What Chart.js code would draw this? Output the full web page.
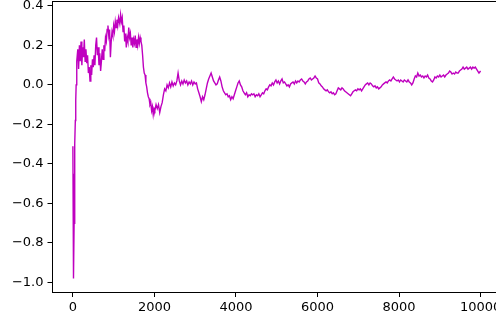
<!DOCTYPE html>
<html>
<head>
<meta charset="utf-8">
<script src="https://cdn.jsdelivr.net/npm/chart.js@4/dist/chart.umd.min.js"></script>
<style>
  html, body { margin: 0; padding: 0; background: #fff; overflow: hidden; }
  #wrap { width: 511px; height: 320px; }
</style>
</head>
<body>
<div id="wrap"><canvas id="c" width="511" height="320"></canvas></div>
<script>
// Running average of the trial outcomes, sampled along the run.
const steps = [
  0, 5, 10, 15, 20, 30, 40, 50, 60, 70, 80, 90, 100, 120, 140, 160, 180, 200, 220, 240,
  260, 280, 300, 320, 340, 360, 380, 400, 420, 440, 460, 480, 500, 520, 540, 560, 580, 600, 620, 640,
  660, 680, 700, 720, 740, 760, 780, 800, 820, 840, 860, 880, 900, 920, 940, 960, 980, 1000, 1020, 1040,
  1060, 1080, 1100, 1120, 1150, 1170, 1190, 1210, 1230, 1250, 1270, 1290, 1310, 1330, 1350, 1370, 1390, 1410, 1430, 1450,
  1470, 1490, 1510, 1530, 1550, 1570, 1590, 1610, 1630, 1650, 1670, 1690, 1710, 1730, 1750, 1770, 1790, 1810, 1830, 1850,
  1870, 1890, 1910, 1930, 1950, 1970, 1990, 2010, 2040, 2070, 2100, 2130, 2160, 2190, 2220, 2250, 2280, 2310, 2340, 2370,
  2400, 2430, 2460, 2490, 2520, 2550, 2580, 2610, 2640, 2670, 2700, 2730, 2760, 2790, 2820, 2850, 2880, 2910, 2940, 2970,
  3000, 3030, 3060, 3090, 3120, 3150, 3180, 3210, 3240, 3270, 3300, 3330, 3360, 3390, 3420, 3450, 3480, 3510, 3540, 3570,
  3600, 3630, 3660, 3690, 3720, 3750, 3780, 3810, 3840, 3870, 3900, 3930, 3960, 3990, 4020, 4050, 4080, 4110, 4140, 4170,
  4200, 4230, 4260, 4290, 4320, 4350, 4380, 4410, 4440, 4470, 4500, 4530, 4560, 4590, 4620, 4650, 4680, 4710, 4740, 4770,
  4800, 4830, 4860, 4890, 4920, 4950, 4980, 5010, 5040, 5070, 5100, 5130, 5160, 5190, 5220, 5250, 5280, 5310, 5340, 5370,
  5400, 5430, 5460, 5490, 5520, 5550, 5580, 5610, 5640, 5670, 5700, 5730, 5760, 5790, 5820, 5850, 5880, 5910, 5940, 5970,
  6000, 6030, 6060, 6090, 6120, 6150, 6180, 6210, 6240, 6270, 6300, 6330, 6360, 6390, 6420, 6450, 6480, 6510, 6540, 6570,
  6600, 6630, 6660, 6690, 6720, 6750, 6780, 6810, 6840, 6870, 6900, 6930, 6960, 6990, 7020, 7050, 7080, 7110, 7140, 7170,
  7200, 7230, 7260, 7290, 7320, 7350, 7380, 7410, 7440, 7470, 7500, 7530, 7560, 7590, 7620, 7650, 7680, 7710, 7740, 7770,
  7800, 7830, 7860, 7890, 7920, 7950, 7980, 8010, 8040, 8070, 8100, 8130, 8160, 8190, 8220, 8250, 8280, 8310, 8340, 8370,
  8400, 8430, 8460, 8490, 8520, 8550, 8580, 8610, 8640, 8670, 8700, 8730, 8760, 8790, 8820, 8850, 8880, 8910, 8940, 8970,
  9000, 9030, 9060, 9090, 9120, 9150, 9180, 9210, 9240, 9270, 9300, 9330, 9360, 9390, 9420, 9450, 9480, 9510, 9540, 9570,
  9600, 9630, 9660, 9690, 9720, 9750, 9780, 9810, 9840, 9870, 9900, 9930, 9960, 9980, 10000
];

const values = [
  -0.31, -0.55, -0.88, -0.45, -0.98, -0.70, -0.50, -0.30, -0.18, -0.08, 0.00, 0.06, 0.12, 0.18, 0.08, 0.20, 0.12, 0.22, 0.10, 0.19,
  0.14, 0.23, 0.12, 0.18, 0.11, 0.15, 0.06, 0.09, 0.02, 0.10, 0.05, 0.13, 0.09, 0.15, 0.10, 0.20, 0.24, 0.15, 0.19, 0.10,
  0.16, 0.07, 0.12, 0.18, 0.13, 0.20, 0.17, 0.24, 0.22, 0.28, 0.30, 0.25, 0.28, 0.14, 0.22, 0.27, 0.25, 0.30, 0.27, 0.32,
  0.29, 0.33, 0.30, 0.34, 0.31, 0.355, 0.32, 0.34, 0.27, 0.30, 0.22, 0.26, 0.19, 0.24, 0.22, 0.29, 0.24, 0.26, 0.20, 0.24,
  0.19, 0.23, 0.21, 0.25, 0.19, 0.23, 0.20, 0.24, 0.21, 0.24, 0.22, 0.20, 0.15, 0.09, 0.06, 0.05, 0.01, -0.01, -0.04, -0.06,
  -0.07, -0.10, -0.09, -0.13, -0.11, -0.15, -0.12, -0.13, -0.10, -0.12, -0.10, -0.14, -0.11, -0.09, -0.05, -0.02, -0.03, 0.00, -0.015, 0.01,
  -0.01, 0.015, -0.005, 0.01, 0.00, 0.02, 0.06, 0.02, 0.00, 0.02, 0.005, 0.025, 0.01, 0.02, 0.00, 0.015, 0.005, 0.02, 0.00, 0.015,
  0.005, 0.01, -0.02, -0.04, -0.06, -0.085, -0.06, -0.075, -0.05, -0.02, 0.01, 0.03, 0.045, 0.06, 0.04, 0.02, 0.01, 0.00, 0.005, 0.025,
  0.04, 0.02, -0.01, -0.03, -0.04, -0.05, -0.045, -0.06, -0.055, -0.075, -0.06, -0.07, -0.05, -0.03, -0.01, 0.01, 0.02, 0.00, -0.01, -0.03,
  -0.04, -0.05, -0.04, -0.06, -0.05, -0.055, -0.045, -0.05, -0.045, -0.06, -0.05, -0.055, -0.045, -0.06, -0.05, -0.04, -0.045, -0.03, -0.02, -0.025,
  -0.01, 0.00, -0.005, 0.01, 0.00, 0.015, 0.025, 0.01, 0.02, 0.005, 0.02, 0.03, 0.01, 0.015, 0.005, -0.005, 0.00, -0.01, 0.005, 0.01,
  0.015, 0.005, 0.02, 0.01, 0.02, 0.015, 0.025, 0.03, 0.02, 0.015, 0.005, 0.015, 0.02, 0.03, 0.035, 0.025, 0.03, 0.035, 0.045, 0.035,
  0.03, 0.01, 0.005, -0.005, -0.01, -0.02, -0.025, -0.03, -0.025, -0.035, -0.04, -0.035, -0.045, -0.04, -0.05, -0.045, -0.03, -0.015, -0.02, -0.025,
  -0.015, -0.02, -0.03, -0.035, -0.04, -0.045, -0.05, -0.055, -0.045, -0.035, -0.03, -0.025, -0.03, -0.02, -0.025, -0.02, -0.03, -0.02, -0.01, 0.00,
  0.005, 0.01, 0.00, 0.01, 0.005, -0.005, -0.01, -0.005, -0.015, -0.01, -0.02, -0.015, -0.01, 0.00, 0.005, 0.01, 0.015, 0.01, 0.02, 0.025,
  0.02, 0.03, 0.04, 0.03, 0.025, 0.02, 0.025, 0.015, 0.025, 0.02, 0.015, 0.025, 0.02, 0.015, 0.025, 0.015, 0.01, 0.00, 0.01, 0.03,
  0.045, 0.04, 0.06, 0.045, 0.05, 0.04, 0.045, 0.035, 0.045, 0.04, 0.05, 0.035, 0.03, 0.02, 0.015, 0.025, 0.04, 0.035, 0.045, 0.04,
  0.05, 0.04, 0.045, 0.05, 0.04, 0.05, 0.055, 0.06, 0.07, 0.065, 0.055, 0.06, 0.055, 0.065, 0.06, 0.06, 0.07, 0.075, 0.08, 0.09,
  0.08, 0.085, 0.09, 0.08, 0.085, 0.09, 0.08, 0.09, 0.085, 0.09, 0.08, 0.07, 0.06, 0.065, 0.07
];

const xTicks = [0, 2000, 4000, 6000, 8000, 10000];
const xTickLabels = ['0', '2000', '4000', '6000', '8000', '10000'];
const yTicks = [-1.0, -0.8, -0.6, -0.4, -0.2, 0.0, 0.2, 0.4];
const yTickLabels = ['\u22121.0', '\u22120.8', '\u22120.6', '\u22120.4', '\u22120.2', '0.0', '0.2', '0.4'];

const points = steps.map((s, i) => ({ x: s, y: values[i] }));

// Closes the frame: top and right edges of the plot area.
const frame = {
  id: 'frame',
  afterDraw(chart) {
    const { ctx, chartArea: a } = chart;
    ctx.save();
    ctx.strokeStyle = '#000';
    ctx.lineWidth = 1;
    ctx.beginPath();
    ctx.moveTo(a.left, a.top);
    ctx.lineTo(a.right, a.top);
    ctx.lineTo(a.right, a.bottom);
    ctx.stroke();
    ctx.restore();
  }
};

const tickFont = { family: 'DejaVu Sans', size: 13 };

new Chart(document.getElementById('c'), {
  type: 'line',
  data: {
    datasets: [{
      data: points,
      borderColor: '#bf00bf',
      borderWidth: 1.4,
      pointRadius: 0,
      tension: 0,
      fill: false
    }]
  },
  options: {
    responsive: false,
    animation: false,
    events: [],
    layout: { padding: { top: 1.5, right: 10, left: 0, bottom: 0 } },
    plugins: { legend: { display: false }, tooltip: { enabled: false } },
    scales: {
      x: {
        type: 'linear',
        min: -500,
        max: 10500,
        afterBuildTicks(scale) { scale.ticks = xTicks.map(v => ({ value: v })); },
        afterFit(scale) { scale.height = 28; scale.paddingLeft = 0; scale.paddingRight = 0; },
        grid: { drawOnChartArea: false, tickLength: 5, color: '#000', tickWidth: 1 },
        border: { color: '#000', width: 1 },
        ticks: {
          font: tickFont,
          color: '#000',
          padding: 3,
          maxRotation: 0,
          autoSkip: false,
          callback: (v) => { const i = xTicks.indexOf(v); return i >= 0 ? xTickLabels[i] : ''; }
        }
      },
      y: {
        type: 'linear',
        min: -1.048,
        max: 0.422,
        afterBuildTicks(scale) { scale.ticks = yTicks.map(v => ({ value: v })); },
        afterFit(scale) { scale.width = 52.5; scale.paddingTop = 0; scale.paddingBottom = 0; },
        grid: { drawOnChartArea: false, tickLength: 5, color: '#000', tickWidth: 1 },
        border: { color: '#000', width: 1 },
        ticks: {
          font: tickFont,
          color: '#000',
          padding: 4,
          autoSkip: false,
          callback: (v) => {
            const i = yTicks.findIndex(t => Math.abs(t - v) < 1e-9);
            return i >= 0 ? yTickLabels[i] : '';
          }
        }
      }
    }
  },
  plugins: [frame]
});
</script>
</body>
</html>
